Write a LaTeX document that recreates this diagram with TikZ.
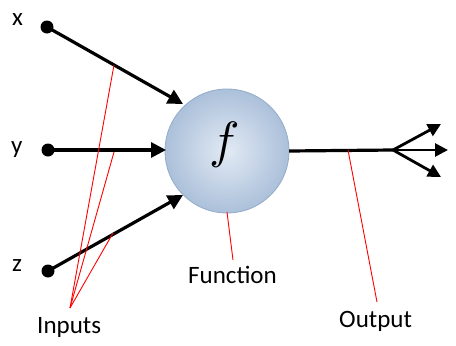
\documentclass[tikz,border=0pt]{standalone}
\usepackage{fontspec}
\setmainfont{Carlito}
\usepackage{graphicx}
\usetikzlibrary{arrows.meta}
\definecolor{ballin}{HTML}{E2EAF4}
\definecolor{ballout}{HTML}{ABC0DA}
\definecolor{ballrim}{HTML}{94ABC8}
\tikzset{
  lbl/.style={anchor=base west, inner sep=0pt, font=\fontsize{25}{28}\selectfont},
  dotnode/.style={circle, fill=black, inner sep=0pt, minimum size=13pt},
  wire/.style={line width=3.2pt, -{Triangle[length=15pt,width=15pt]}},
  wireplain/.style={line width=3.2pt},
  brarrow/.style={line width=2.8pt, -{Triangle[length=13pt,width=13pt]}},
  callout/.style={red, line width=0.9pt},
}
\begin{document}
\begin{tikzpicture}[x=1pt,y=-1pt]
\useasboundingbox (0,0) rectangle (456,346);
% neuron body
\shade[inner color=ballin, outer color=ballout] (227,151) circle (62);
\draw[ballrim, line width=0.8pt] (227,151) circle (62);
\node[circle, minimum size=124pt, inner sep=0pt] (fn) at (227,151) {};
\node[inner sep=0pt] (fsym) at (225,145) {\scalebox{5.1}{$f$}};
% input dots
\node[dotnode] (xd) at (47,27) {};
\node[dotnode] (yd) at (48,150) {};
\node[dotnode] (zd) at (48,271) {};
% arrow tips
\coordinate (xt) at (183,104);
\coordinate (yt) at (166,150);
\coordinate (zt) at (183,195);
\draw[wire] (xd.center) -- (xt);
\draw[wire] (yd.center) -- (yt);
\draw[wire] (zd.center) -- (zt);
% output
\coordinate (br) at (393,150);
\coordinate (o1) at (441,124);
\coordinate (o2) at (448,150);
\coordinate (o3) at (441,177);
\draw[wireplain] (fn.east) -- (br);
\draw[brarrow] (br) -- (o1);
\draw[brarrow] (br) -- (o2);
\draw[brarrow] (br) -- (o3);
% labels
\node[lbl] (lx) at (12,25) {x};
\node[lbl] (ly) at (11,153) {y};
\node[lbl] (lz) at (12,271) {z};
\node[lbl] (lin) at (37,333) {Inputs};
\node[lbl] (lfn) at (188,283) {Function};
\node[lbl] (lout) at (339,327) {Output};
% callouts
\coordinate (inp) at (70,308);
\coordinate (cx) at (114,65);
\coordinate (cy) at (114,152);
\coordinate (cz) at (113,233);
\draw[callout] (inp) -- (cx);
\draw[callout] (inp) -- (cy);
\draw[callout] (inp) -- (cz);
\coordinate (fa) at (227,212);
\coordinate (fb) at (233,260);
\draw[callout] (fa) -- (fb);
\coordinate (oa) at (348,150);
\coordinate (ob) at (377,302);
\draw[callout] (oa) -- (ob);
\end{tikzpicture}
\end{document}
